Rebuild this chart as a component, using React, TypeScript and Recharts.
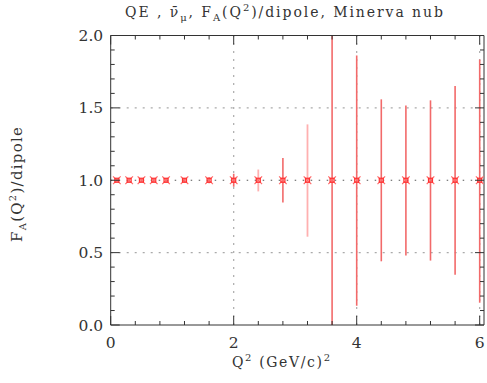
import React from 'react';
import { ScatterChart, Scatter, XAxis, YAxis, ErrorBar, ReferenceLine } from 'recharts';

// Q^2 bin centres (GeV/c)^2
const q2 = [0.1, 0.3, 0.5, 0.7, 0.9, 1.2, 1.6, 2.0, 2.4, 2.8, 3.2, 3.6, 4.0, 4.4, 4.8, 5.2, 5.6, 6.0];
// F_A(Q^2)/dipole ratio
const ratio = [1, 1, 1, 1, 1, 1, 1, 1, 1, 1, 1, 1, 1, 1, 1, 1, 1, 1];
// error bar extents below / above the point
const errLow = [0.01, 0.01, 0.012, 0.012, 0.015, 0.015, 0.02, 0.045, 0.077, 0.154, 0.39, 1.0, 0.867, 0.56, 0.52, 0.555, 0.653, 0.846];
const errHigh = [0.01, 0.01, 0.012, 0.012, 0.015, 0.015, 0.02, 0.045, 0.074, 0.154, 0.386, 1.0, 0.862, 0.559, 0.517, 0.552, 0.651, 0.834];
// which error bars are drawn in the paler tone
const paleBar = [false, false, false, false, false, false, false, false, true, false, true, false, false, false, false, false, false, false];

const xMajor = [0, 2, 4, 6];
const xMinor = [0.4, 0.8, 1.2, 1.6, 2.4, 2.8, 3.2, 3.6, 4.4, 4.8, 5.2, 5.6];
const yMajor = [0, 0.5, 1, 1.5, 2];
const yMinor = [0.1, 0.2, 0.3, 0.4, 0.6, 0.7, 0.8, 0.9, 1.1, 1.2, 1.3, 1.4, 1.6, 1.7, 1.8, 1.9];
const xGrid = [2, 4, 6];
const yGrid = [0.5, 1.5];
const yRef = [1];
const xDomain: [number, number] = [0, 6.07];
const yDomain: [number, number] = [0, 2];

const rows = q2.map((x, i) => ({ x, y: ratio[i], err: [errLow[i], errHigh[i]], pale: paleBar[i] }));
const darkRows = rows.filter(r => !r.pale);
const paleRows = rows.filter(r => r.pale);
const xTicks = [...xMajor, ...xMinor].sort((a, b) => a - b);
const yTicks = [...yMajor, ...yMinor].sort((a, b) => a - b);
const isMajor = (list: number[], v: number) => list.some(m => Math.abs(m - v) < 1e-9);

const AX = '#333';
const FONT = '"DejaVu Serif", serif';
const MAJ = 9;
const MIN = 4;

const BottomTick = (props: any) => {
  const { x, y, payload } = props;
  const v = payload.value;
  const major = isMajor(xMajor, v);
  return (
    <g>
      <line x1={x} x2={x} y1={y} y2={y - (major ? MAJ : MIN)} stroke={AX} />
      {major && (
        <text x={x} y={y + 23} textAnchor="middle" fontFamily={FONT} fontSize={15.5} fill="#333">{String(v)}</text>
      )}
    </g>
  );
};
const TopTick = (props: any) => {
  const { x, y, payload } = props;
  const major = isMajor(xMajor, payload.value);
  return <line x1={x} x2={x} y1={y} y2={y + (major ? MAJ : MIN)} stroke={AX} />;
};
const LeftTick = (props: any) => {
  const { x, y, payload } = props;
  const v = payload.value;
  const major = isMajor(yMajor, v);
  return (
    <g>
      <line x1={x} x2={x + (major ? MAJ : MIN)} y1={y} y2={y} stroke={AX} />
      {major && (
        <text x={x - 7.5} y={y + 5.5} textAnchor="end" fontFamily={FONT} fontSize={15.5} fill="#333">{v.toFixed(1)}</text>
      )}
    </g>
  );
};
const RightTick = (props: any) => {
  const { x, y, payload } = props;
  const major = isMajor(yMajor, payload.value);
  return <line x1={x} x2={x - (major ? MAJ : MIN)} y1={y} y2={y} stroke={AX} />;
};

const Marker = (props: any) => {
  const { cx, cy } = props;
  if (cx == null || cy == null) return <g />;
  const s = 3.8;
  return (
    <g>
      <line x1={cx - s} y1={cy - s} x2={cx + s} y2={cy + s} stroke="#ff6a6a" strokeWidth={1.2} />
      <line x1={cx - s} y1={cy + s} x2={cx + s} y2={cy - s} stroke="#ff6a6a" strokeWidth={1.2} />
      <rect x={cx - 2} y={cy - 2} width={4} height={4} fill="none" stroke="#ff3030" strokeWidth={1.2} />
    </g>
  );
};

const Empty = () => <g />;

export default function App() {
  return (
    <div style={{ position: 'absolute', left: 0, top: 0, width: 487, height: 383 }}>
      <ScatterChart width={487} height={383} margin={{ top: 34.5, right: 2, bottom: 28, left: 50.7 }}>
        <XAxis xAxisId="b" type="number" dataKey="x" domain={xDomain} ticks={xTicks} interval={0}
          allowDataOverflow height={30} tickSize={0} tickMargin={0}
          axisLine={{ stroke: AX }} tickLine={false} tick={BottomTick} />
        <XAxis xAxisId="t" orientation="top" type="number" dataKey="x" domain={xDomain} ticks={xTicks} interval={0}
          allowDataOverflow height={1} tickSize={0} tickMargin={0}
          axisLine={{ stroke: AX }} tickLine={false} tick={TopTick} />
        <YAxis yAxisId="l" type="number" dataKey="y" domain={yDomain} ticks={yTicks} interval={0}
          allowDataOverflow width={60} tickSize={0} tickMargin={0}
          axisLine={{ stroke: AX }} tickLine={false} tick={LeftTick} />
        <YAxis yAxisId="r" orientation="right" type="number" dataKey="y" domain={yDomain} ticks={yTicks} interval={0}
          allowDataOverflow width={1} tickSize={0} tickMargin={0}
          axisLine={{ stroke: AX }} tickLine={false} tick={RightTick} />

        {xGrid.map(v => (
          <ReferenceLine key={'xg' + v} xAxisId="b" yAxisId="l" x={v} stroke="#aaa" strokeWidth={1.2} strokeDasharray="2 6" />
        ))}
        {yGrid.map(v => (
          <ReferenceLine key={'yg' + v} xAxisId="b" yAxisId="l" y={v} stroke="#aaa" strokeWidth={1.2} strokeDasharray="2 6" />
        ))}
        {yRef.map(v => (
          <ReferenceLine key={'yr' + v} xAxisId="b" yAxisId="l" y={v} stroke="#555" strokeWidth={1.2} strokeDasharray="1.5 6.5" />
        ))}

        <Scatter xAxisId="b" yAxisId="l" data={paleRows} dataKey="y" shape={Empty} isAnimationActive={false}>
          <ErrorBar dataKey="err" direction="y" width={0} stroke="#ffb0b0" strokeWidth={1.8} isAnimationActive={false} />
        </Scatter>
        <Scatter xAxisId="b" yAxisId="l" data={darkRows} dataKey="y" shape={Empty} isAnimationActive={false}>
          <ErrorBar dataKey="err" direction="y" width={0} stroke="#f26a6a" strokeWidth={1.6} isAnimationActive={false} />
        </Scatter>
        <Scatter xAxisId="b" yAxisId="l" data={rows} dataKey="y" shape={Marker} isAnimationActive={false} />
      </ScatterChart>
      <svg width={487} height={383} style={{ position: 'absolute', left: 0, top: 0, pointerEvents: 'none' }}>
        <text x={284} y={17} textAnchor="middle" fontFamily={FONT} fontSize={14} fill="#333" textLength={318} lengthAdjust="spacing">
          QE , {'\u03BD\u0304'}<tspan fontSize={10} dy={4}>{'\u03BC'}</tspan><tspan dy={-4}>, F</tspan>
          <tspan fontSize={10} dy={4}>A</tspan><tspan dy={-4}>(Q</tspan><tspan fontSize={10} dy={-6}>2</tspan>
          <tspan dy={6}>)/dipole, Minerva nub</tspan>
        </text>
        <text x={281} y={367} textAnchor="middle" fontFamily={FONT} fontSize={14} fill="#333" textLength={98} lengthAdjust="spacing">
          Q<tspan fontSize={10} dy={-6}>2</tspan><tspan dy={6}> (GeV/c)</tspan><tspan fontSize={10} dy={-6}>2</tspan>
        </text>
        <text x={0} y={0} transform="translate(22,184.5) rotate(-90)" textAnchor="middle" fontFamily={FONT} fontSize={15} fill="#333" textLength={115} lengthAdjust="spacing">
          F<tspan fontSize={10} dy={4}>A</tspan><tspan dy={-4}>(Q</tspan><tspan fontSize={10} dy={-6}>2</tspan><tspan dy={6}>)/dipole</tspan>
        </text>
      </svg>
    </div>
  );
}
